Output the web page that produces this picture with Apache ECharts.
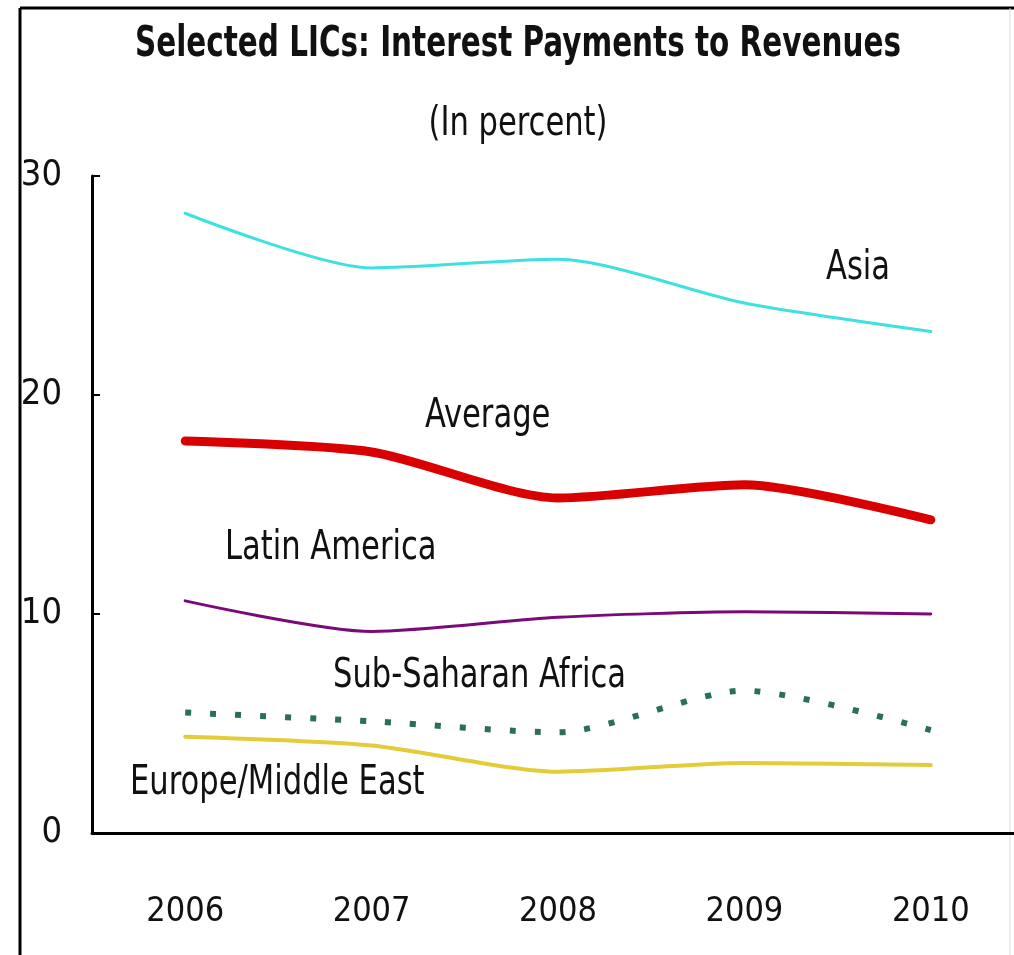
<!DOCTYPE html>
<html><head><meta charset="utf-8">
<script src="https://cdn.jsdelivr.net/npm/echarts@6/dist/echarts.min.js"></script>
<style>html,body{margin:0;padding:0;background:#fff;overflow:hidden}#c{width:1026px;height:955px}</style>
</head><body><div id="c"></div>
<script>
const years = ['2006','2007','2008','2009','2010'];
const asia = [28.3, 25.8, 26.2, 24.2, 22.9];
const average = [17.9, 17.4, 15.3, 15.9, 14.3];
const latinAmerica = [10.6, 9.2, 9.85, 10.1, 10.0];
const subSaharanAfrica = [5.5, 5.1, 4.6, 6.5, 4.7];
const europeMiddleEast = [4.4, 4.0, 2.8, 3.2, 3.1];
const yTicks = [0, 10, 20, 30];

const FONT = '"Liberation Sans Narrow", "Arial Narrow", "DejaVu Sans Condensed", sans-serif';
const chart = echarts.init(document.getElementById('c'), null, {renderer: 'canvas'});
function line(name, data, color, width, extra) {
  return Object.assign({
    name, type: 'line', data, smooth: 0.25, symbol: 'none',
    lineStyle: {color, width, cap: 'round', join: 'round'}, z: 3
  }, extra || {});
}
const txt = (x, y, t, opts) => Object.assign({
  type: 'text', x, y, scaleY: 1.22, z: 10,
  style: {text: t, font: '34px ' + FONT, fill: '#111', align: 'left', verticalAlign: 'middle'}
}, opts || {});
chart.setOption({
  animation: false,
  backgroundColor: '#fff',
  grid: {left: 92, top: 176, right: 2, height: 657, containLabel: false},
  xAxis: {
    type: 'category', data: years, boundaryGap: true,
    axisLine: {lineStyle: {color: '#000', width: 3}},
    axisTick: {inside: true, length: 16, lineStyle: {color: '#000', width: 2}},
    axisLabel: {margin: 62, fontFamily: FONT, fontSize: 34, color: '#111'}
  },
  yAxis: {
    type: 'value', min: 0, max: 30, interval: 10,
    splitLine: {show: false},
    axisLine: {show: true, lineStyle: {color: '#000', width: 3}},
    axisTick: {show: true, inside: true, length: 8, lineStyle: {color: '#000', width: 2}},
    axisLabel: {margin: 30, fontFamily: FONT, fontSize: 36, color: '#111',
      formatter: v => yTicks.includes(v) ? String(v) : ''}
  },
  series: [
    line('Asia', asia, '#3ee0e0', 3),
    line('Average', average, '#d80000', 9),
    line('Latin America', latinAmerica, '#7a0a78', 3),
    line('Sub-Saharan Africa', subSaharanAfrica, '#2c6e58', 6,
      {lineStyle: {color: '#2c6e58', width: 6, type: [6, 19], cap: 'butt'}}),
    line('Europe/Middle East', europeMiddleEast, '#e2cc3a', 4)
  ],
  graphic: [
    {type: 'line', shape: {x1: 20, y1: 8, x2: 1026, y2: 8}, style: {stroke: '#000', lineWidth: 3}},
    {type: 'line', shape: {x1: 20, y1: 8, x2: 20, y2: 955}, style: {stroke: '#000', lineWidth: 3}},
    {type: 'line', shape: {x1: 1010, y1: 8, x2: 1010, y2: 955}, style: {stroke: '#ddd', lineWidth: 1}},
    {type: 'text', x: 518, y: 45, scaleX: 0.91, scaleY: 1.2, z: 10,
      style: {text: 'Selected LICs: Interest Payments to Revenues', font: 'bold 36px ' + FONT,
        fill: '#111', align: 'center', verticalAlign: 'middle'}},
    {type: 'text', x: 518, y: 124, scaleY: 1.22, z: 10,
      style: {text: '(In percent)', font: '34px ' + FONT, fill: '#111', align: 'center', verticalAlign: 'middle'}},
    txt(826, 268, 'Asia'),
    txt(425, 416, 'Average'),
    txt(225, 548, 'Latin America'),
    txt(333, 676, 'Sub-Saharan Africa'),
    txt(130, 783, 'Europe/Middle East')
  ]
});
</script></body></html>
